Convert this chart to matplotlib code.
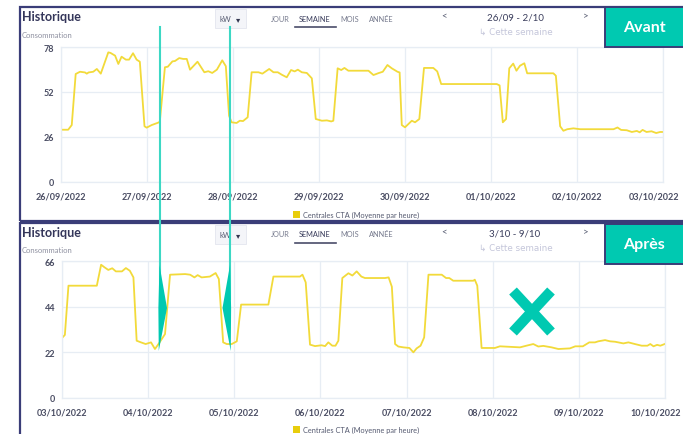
import matplotlib.pyplot as plt
from matplotlib.patches import Rectangle, Polygon
from matplotlib.lines import Line2D
from matplotlib.transforms import ScaledTranslation

# --- data (hours since start of week, kW) ---
top_hours = [0.2, 2.0, 3.0, 4.1, 5.3, 6.7, 7.2, 7.7, 9.0, 10.0, 11.1, 13.2, 13.8, 15.1, 16.0,
             16.9, 18.1, 19.0, 20.1, 21.1, 22.0, 23.3, 23.9,
             25.3, 27.4, 27.6, 29.0, 29.8, 31.1, 31.8, 33.0, 34.1, 35.1, 36.0, 38.1, 40.0,
             41.1, 42.2, 43.5, 45.0, 46.0, 46.9, 47.6,
             49.0, 49.9, 50.8, 52.1, 53.2, 55.1, 56.2, 58.1, 59.3, 60.5, 61.6, 63.0, 64.2,
             65.2, 66.1, 67.2, 68.6, 70.0, 71.1, 72.8, 74.2, 75.4, 76.0,
             77.2, 78.2, 79.1, 80.2, 85.8, 87.2, 88.6, 89.8, 91.1, 92.3, 93.9, 94.5, 95.1, 96.0,
             97.9, 98.8, 100.0, 101.3, 103.9, 105.0, 106.1, 121.6, 122.4, 123.3, 124.2,
             125.1, 126.2, 127.1, 128.1, 129.3, 130.1, 137.4, 138.1, 139.3, 140.2, 141.3,
             143.0, 144.9, 154.2, 155.3, 156.3, 157.9, 159.3, 160.7, 161.5, 162.3, 163.4,
             164.8, 166.1, 167.2, 168.0]
top_values = [30.2, 30.2, 32.9, 62.4, 63.7, 63.3, 62.6, 63.3, 63.7, 65.3, 62.6, 74.9, 74.6, 73.0, 68.2,
              72.4, 70.7, 70.7, 74.4, 70.7, 69.5, 32.2, 31.4,
              32.9, 34.5, 35.4, 66.3, 66.6, 69.7, 69.9, 71.6, 71.1, 71.1, 64.9, 69.5, 63.4,
              64.0, 63.0, 64.9, 70.3, 66.9, 38.3, 34.5,
              34.1, 35.4, 35.2, 37.4, 63.4, 63.4, 62.6, 65.3, 63.4, 63.4, 62.0, 60.5, 64.7,
              63.9, 64.9, 63.4, 63.0, 59.9, 36.4, 35.4, 35.6, 35.0, 35.4,
              65.7, 64.7, 65.9, 64.3, 64.3, 61.8, 62.9, 63.7, 67.6, 65.7, 63.7, 63.3, 32.9, 31.6,
              35.4, 34.5, 36.4, 65.9, 65.9, 63.9, 56.6, 56.6, 55.8, 34.5, 36.4,
              65.7, 68.4, 64.3, 67.2, 68.6, 62.8, 62.8, 61.4, 32.2, 29.6, 30.5,
              31.0, 30.5, 30.5, 31.5, 30.1, 29.9, 28.9, 29.5, 28.7, 30.1, 28.9,
              29.3, 28.3, 28.9, 28.9]

bottom_hours = [0.0, 0.8, 1.8, 9.7, 10.9, 11.8, 12.9, 14.0, 15.0, 16.7, 17.8, 18.9, 19.9, 20.8,
                22.0, 23.3, 24.8, 25.9, 27.0, 28.7, 30.1, 34.3, 35.7, 36.9, 37.8, 38.9, 41.2,
                42.8, 43.7, 44.9, 45.9, 47.3, 48.7, 49.9, 57.5, 58.9, 66.3, 67.0, 67.9, 69.1,
                70.5, 72.3, 73.3, 74.2, 75.3, 76.2, 77.0, 78.1, 79.8, 80.9, 82.1, 83.4, 84.4,
                90.0, 91.0, 91.9, 92.8, 93.7, 95.1, 96.8, 97.9, 98.8, 99.9, 100.9, 102.1, 105.8,
                107.0, 107.9, 109.0, 114.6, 115.0, 115.7, 116.9, 120.6, 122.0, 127.6, 129.4,
                131.3, 132.7, 134.1, 136.4, 138.3, 141.5, 143.0, 145.1, 146.9, 148.5, 149.4,
                151.3, 152.7, 154.1, 156.4, 157.8, 159.6, 161.5, 163.1, 163.9, 164.8, 165.8,
                166.7, 167.9]
bottom_values = [28.9, 30.4, 54.1, 54.1, 64.2, 63.0, 61.7, 62.5, 61.0, 61.0, 62.6, 61.3, 58.1, 27.6,
                 26.8, 26.0, 26.8, 23.6, 26.3, 30.8, 59.4, 59.7, 59.4, 58.1, 59.2, 58.1, 58.5,
                 60.2, 57.3, 26.8, 26.0, 26.0, 27.3, 45.0, 45.0, 58.5, 58.5, 59.4, 55.7, 25.7,
                 25.0, 25.4, 25.0, 26.8, 25.2, 25.2, 27.6, 57.8, 60.1, 59.0, 61.0, 58.5, 57.8,
                 57.8, 58.1, 53.6, 26.0, 24.8, 24.4, 24.1, 22.0, 23.9, 25.2, 29.2, 59.4, 59.4,
                 57.8, 57.8, 56.5, 56.5, 57.0, 54.1, 24.1, 24.1, 24.9, 24.4, 25.2,
                 26.0, 24.8, 25.1, 24.4, 23.6, 23.9, 24.9, 24.9, 26.8, 26.8, 27.3,
                 27.9, 27.3, 27.1, 26.3, 26.8, 26.0, 25.2, 25.2, 26.0, 24.9, 25.6,
                 25.2, 26.0]

top_dates = ["26/09/2022", "27/09/2022", "28/09/2022", "29/09/2022",
             "30/09/2022", "01/10/2022", "02/10/2022", "03/10/2022"]
bottom_dates = ["03/10/2022", "04/10/2022", "05/10/2022", "06/10/2022",
                "07/10/2022", "08/10/2022", "09/10/2022", "10/10/2022"]
top_yticks = [0, 26, 52, 78]
bottom_yticks = [0, 22, 44, 66]
series_label = "Centrales CTA (Moyenne par heure)"

W, H = 683, 435
NAVY = "#3a3d78"
TEAL = "#00c9b1"
LINE_TEAL = "#3dd8c4"
YELLOW = "#f2da3a"
GRID = "#e7edf4"
plt.rcParams['font.family'] = ['Lato', 'DejaVu Sans']

fig = plt.figure(figsize=(W / 100, H / 100), dpi=100)
fig.patch.set_facecolor("white")


def fx(px):
    return px / W


def fy(py):
    return 1 - py / H


def panel(top, bottom, period, title_y, legend_y):
    # frame of the screenshot panel
    fig.patches.append(Rectangle((fx(20), fy(bottom)), fx(700) - fx(20), fy(top) - fy(bottom),
                                 transform=fig.transFigure, fill=False, ec=NAVY, lw=1.6))
    t = title_y
    fig.text(fx(22), fy(t), "Historique", fontsize=9, fontweight="bold", color="#34365a",
             va="center")
    fig.text(fx(22), fy(t + 18), "Consommation", fontsize=5.5, color="#8e90a0", va="center")
    fig.patches.append(Rectangle((fx(215), fy(t + 12)), fx(31), 19 / H, transform=fig.transFigure,
                                 fc="#f4f5f9", ec="#e3e5ee", lw=0.6))
    fig.text(fx(225), fy(t + 2.5), "kW", fontsize=5.5, color="#555a70", ha="center", va="center")
    fig.text(fx(238), fy(t + 2.5), "▾", fontsize=6, color="#333650", ha="center", va="center")
    for label, x in [("JOUR", 280), ("SEMAINE", 315), ("MOIS", 350), ("ANNÉE", 381)]:
        fig.text(fx(x), fy(t + 2), label, fontsize=5.3, ha="center", va="center",
                 color="#3a3d5c" if label == "SEMAINE" else "#777b8e")
    fig.lines.append(Line2D([fx(295), fx(336)], [fy(t + 11), fy(t + 11)],
                            transform=fig.transFigure, color="#4a4d6a", lw=1.2))
    fig.text(fx(444), fy(t), "<", fontsize=7, color="#555a70", ha="center", va="center")
    fig.text(fx(586), fy(t), ">", fontsize=7, color="#555a70", ha="center", va="center")
    fig.text(fx(515), fy(t + 1), period, fontsize=7, color="#3a3d5c", ha="center", va="center")
    fig.text(fx(516), fy(t + 15), "↳ Cette semaine", fontsize=6.3, color="#c4c6da",
             ha="center", va="center", family=['DejaVu Sans'])
    # legend
    fig.patches.append(Rectangle((fx(293), fy(legend_y + 3.5)), fx(7), 7 / H,
                                 transform=fig.transFigure, fc="#e8cd0c", ec="none"))
    fig.text(fx(303), fy(legend_y), series_label, fontsize=5.3, color="#555a70", va="center")


def chart(left, right, top, bottom, hours, values, dates, yticks):
    ax = fig.add_axes([fx(left), fy(bottom), fx(right) - fx(left), fy(top) - fy(bottom)])
    ax.plot(hours, values, color=YELLOW, lw=1.3, solid_joinstyle="round")
    ax.set_xlim(0, 168)
    ax.set_ylim(0, yticks[-1])
    ax.set_xticks(range(0, 169, 24))
    ax.set_xticklabels(dates)
    ax.set_yticks(yticks)
    ax.grid(True, color=GRID, lw=0.9)
    ax.set_axisbelow(True)
    for s in ax.spines.values():
        s.set_color(GRID)
        s.set_linewidth(0.9)
    ax.tick_params(length=0, labelsize=6.5, labelcolor="#4a4d63", pad=5)
    ax.tick_params(axis="x", pad=7)
    for lab in ax.get_xticklabels() + ax.get_yticklabels():
        lab.set_fontweight("bold")
    # last date sits at the image edge: nudge it left so it stays readable
    last = ax.get_xticklabels()[-1]
    last.set_transform(last.get_transform() + ScaledTranslation(-0.09, 0, fig.dpi_scale_trans))
    return ax


panel(8, 222, "26/09 - 2/10", 17, 215.5)
panel(224, 445, "3/10 - 9/10", 233, 430)
chart(61, 663, 48, 183, top_hours, top_values, top_dates, top_yticks)
chart(62, 665, 262, 399, bottom_hours, bottom_values, bottom_dates, bottom_yticks)

# "Avant" / "Après" badges
for y0, word in [(8, "Avant"), (225, "Après")]:
    fig.patches.append(Rectangle((fx(605), fy(y0 + 40)), fx(90), 40 / H, transform=fig.transFigure,
                                 fc=TEAL, ec=NAVY, lw=1.4, zorder=5))
    fig.text(fx(644), fy(y0 + 20), word, fontsize=11.5, fontweight="bold", color="white",
             ha="center", va="center", zorder=6)

# teal markers across both panels
for x, d in [(159.5, 7.5), (230, -7.5)]:
    fig.lines.append(Line2D([fx(x), fx(x)], [fy(28), fy(300)], transform=fig.transFigure,
                            color=LINE_TEAL, lw=1.5, zorder=4))
    fig.patches.append(Polygon([(fx(x), fy(266)), (fx(x + d), fy(309)), (fx(x - d * 0.1), fy(352)),
                                (fx(x - d * 0.15), fy(309))], closed=True,
                               transform=fig.transFigure, fc=TEAL, ec="none", zorder=4))

# cross over the weekend
for (x0, y0), (x1, y1) in [((513, 292), (551, 333)), ((513, 333), (551, 292))]:
    fig.lines.append(Line2D([fx(x0), fx(x1)], [fy(y0), fy(y1)], transform=fig.transFigure,
                            color=TEAL, lw=7.5, solid_capstyle="butt", zorder=4))

fig.savefig("out.png", dpi=100)
